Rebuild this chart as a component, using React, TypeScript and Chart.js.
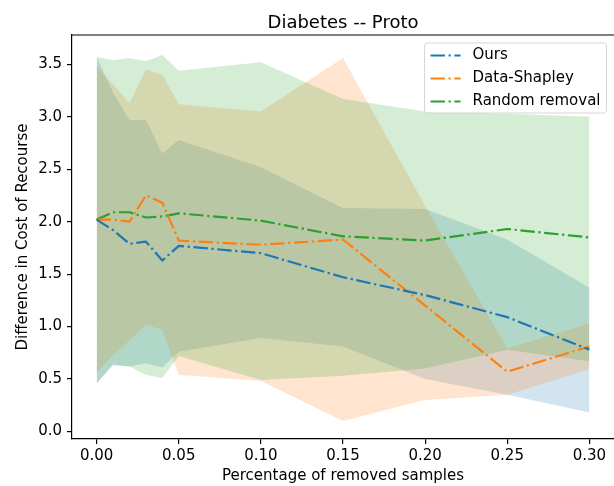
import React, { useEffect, useRef } from 'react';
import { Chart, registerables } from 'chart.js';

Chart.register(...registerables);

const xValues = [0, 0.01, 0.02, 0.03, 0.04, 0.05, 0.1, 0.15, 0.2, 0.25, 0.3];
const xTicks = [0, 0.05, 0.1, 0.15, 0.2, 0.25, 0.3];
const yTicks = [0, 0.5, 1, 1.5, 2, 2.5, 3, 3.5];
const chartTitle = 'Diabetes -- Proto';
const seriesLabels = ['Ours', 'Data-Shapley', 'Random removal'];
const seriesColors = ['#1f77b4', '#ff7f0e', '#2ca02c'];
const bandColors = ['rgba(31,119,180,0.2)', 'rgba(255,127,14,0.2)', 'rgba(44,160,44,0.2)'];

const oursMean = [2.02, 1.92, 1.79, 1.81, 1.63, 1.77, 1.70, 1.47, 1.30, 1.09, 0.78];
const oursUpper = [3.57, 3.23, 2.97, 2.97, 2.65, 2.78, 2.52, 2.13, 2.12, 1.83, 1.37];
const oursLower = [0.46, 0.63, 0.62, 0.65, 0.61, 0.76, 0.89, 0.81, 0.50, 0.35, 0.18];

const shapleyMean = [2.02, 2.02, 2.00, 2.25, 2.18, 1.82, 1.78, 1.83, 1.20, 0.57, 0.81];
const shapleyUpper = [3.48, 3.31, 3.13, 3.45, 3.40, 3.12, 3.05, 3.56, 2.15, 0.79, 1.03];
const shapleyLower = [0.56, 0.73, 0.87, 1.02, 0.97, 0.54, 0.48, 0.10, 0.30, 0.35, 0.59];

const randomMean = [2.02, 2.09, 2.09, 2.04, 2.05, 2.08, 2.01, 1.86, 1.82, 1.93, 1.85];
const randomUpper = [3.57, 3.54, 3.56, 3.53, 3.59, 3.44, 3.52, 3.17, 3.05, 3.03, 3.00];
const randomLower = [0.46, 0.64, 0.62, 0.54, 0.51, 0.72, 0.49, 0.53, 0.60, 0.78, 0.67];

const FONT = 'DejaVu Sans';
const DASH = [14.4, 3.6, 2.25, 3.6];

const pts = (ys: number[]) => xValues.map((x, i) => ({ x, y: ys[i] }));

const lineDs = (i: number, ys: number[]) => ({
  label: seriesLabels[i],
  data: pts(ys),
  borderColor: seriesColors[i],
  backgroundColor: seriesColors[i],
  borderWidth: 2.2,
  borderDash: DASH,
  borderCapStyle: 'butt',
  borderJoinStyle: 'round',
  pointRadius: 0,
  pointHoverRadius: 0,
  fill: false,
  tension: 0,
});

const bandDs = (i: number, ys: number[], upper: boolean) => ({
  label: '',
  data: pts(ys),
  borderWidth: 0,
  borderColor: 'rgba(0,0,0,0)',
  backgroundColor: bandColors[i],
  pointRadius: 0,
  pointHoverRadius: 0,
  fill: upper ? '+1' : false,
  tension: 0,
});

const framePlugin = {
  id: 'frameAndLegend',
  afterDraw(chart: any) {
    const { ctx, chartArea } = chart;
    ctx.save();
    // top spine
    ctx.strokeStyle = '#000';
    ctx.lineWidth = 1.2;
    ctx.beginPath();
    ctx.moveTo(chartArea.left - 0.6, chartArea.top);
    ctx.lineTo(chartArea.right + 1, chartArea.top);
    ctx.stroke();

    // title centred over the axes
    ctx.font = `18px "${FONT}"`;
    ctx.fillStyle = '#000';
    ctx.textAlign = 'center';
    ctx.textBaseline = 'alphabetic';
    ctx.fillText(chartTitle, (chartArea.left + chartArea.right) / 2, chartArea.top - 7.5);

    // legend
    const fs = 15;
    ctx.font = `${fs}px "${FONT}"`;
    const items = chart.data.datasets.slice(0, 3);
    let maxW = 0;
    items.forEach((d: any) => { maxW = Math.max(maxW, ctx.measureText(d.label).width); });
    const pad = 0.4 * fs;
    const handle = 2 * fs;
    const textPad = 0.8 * fs;
    const w = pad + handle + textPad + maxW + pad;
    const rowGap = 23;
    const h = 70;
    const right = chartArea.right - 0.5 * fs;
    const top = chartArea.top + 0.5 * fs + 0.5;
    const left = right - w;
    const r = 3;
    ctx.beginPath();
    ctx.moveTo(left + r, top);
    ctx.lineTo(left + w - r, top);
    ctx.arcTo(left + w, top, left + w, top + r, r);
    ctx.lineTo(left + w, top + h - r);
    ctx.arcTo(left + w, top + h, left + w - r, top + h, r);
    ctx.lineTo(left + r, top + h);
    ctx.arcTo(left, top + h, left, top + h - r, r);
    ctx.lineTo(left, top + r);
    ctx.arcTo(left, top, left + r, top, r);
    ctx.closePath();
    ctx.fillStyle = 'rgba(255,255,255,0.8)';
    ctx.fill();
    ctx.strokeStyle = 'rgba(204,204,204,0.8)';
    ctx.lineWidth = 1;
    ctx.stroke();

    items.forEach((d: any, i: number) => {
      const cy = top + 12.5 + rowGap * i;
      const hx = left + pad;
      ctx.save();
      ctx.strokeStyle = d.borderColor;
      ctx.lineWidth = d.borderWidth;
      ctx.setLineDash(d.borderDash);
      ctx.lineCap = 'butt';
      ctx.beginPath();
      ctx.moveTo(hx, cy);
      ctx.lineTo(hx + handle, cy);
      ctx.stroke();
      ctx.restore();
      ctx.fillStyle = '#000';
      ctx.textBaseline = 'middle';
      ctx.textAlign = 'left';
      ctx.fillText(d.label, hx + handle + textPad, cy);
    });
    ctx.restore();
  },
};

export default function App() {
  const ref = useRef<HTMLCanvasElement>(null);
  useEffect(() => {
    if (!ref.current) return;
    const chart = new Chart(ref.current, {
      type: 'line',
      data: {
        datasets: [
          lineDs(0, oursMean),
          lineDs(1, shapleyMean),
          lineDs(2, randomMean),
          bandDs(2, randomUpper, true),
          bandDs(2, randomLower, false),
          bandDs(1, shapleyUpper, true),
          bandDs(1, shapleyLower, false),
          bandDs(0, oursUpper, true),
          bandDs(0, oursLower, false),
        ] as any,
      },
      options: {
        animation: false,
        responsive: false,
        devicePixelRatio: 1,
        events: [],
        layout: { padding: { top: 35, left: 0, right: 0, bottom: 0 } },
        plugins: {
          legend: { display: false },
          tooltip: { enabled: false },
          title: { display: false },
        },
        scales: {
          x: {
            type: 'linear',
            min: -0.015,
            max: 0.315,
            afterBuildTicks: (s: any) => { s.ticks = xTicks.map((v) => ({ value: v })); },
            afterFit: (s: any) => { s.height = 47; },
            ticks: {
              color: '#000',
              font: { family: FONT, size: 15 },
              padding: 3,
              maxRotation: 0,
              autoSkip: false,
              callback: (v: any) => Number(v).toFixed(2),
            },
            grid: { drawOnChartArea: false, drawTicks: true, tickLength: 5, color: '#000', lineWidth: 1.2 },
            border: { display: true, color: '#000', width: 1.2 },
            title: {
              display: true,
              text: 'Percentage of removed samples',
              color: '#000',
              font: { family: FONT, size: 15, lineHeight: 1.2 },
              padding: { top: 0, bottom: 1 },
            },
          },
          y: {
            type: 'linear',
            min: -0.072,
            max: 3.78,
            afterBuildTicks: (s: any) => { s.ticks = yTicks.map((v) => ({ value: v })); },
            afterFit: (s: any) => { s.width = 72; },
            ticks: {
              color: '#000',
              font: { family: FONT, size: 15 },
              padding: 5,
              autoSkip: false,
              callback: (v: any) => Number(v).toFixed(1),
            },
            grid: { drawOnChartArea: false, drawTicks: true, tickLength: 5, color: '#000', lineWidth: 1.2 },
            border: { display: true, color: '#000', width: 1.2 },
            title: {
              display: true,
              text: 'Difference in Cost of Recourse',
              color: '#000',
              font: { family: FONT, size: 15, lineHeight: 1.2 },
              padding: { top: 13.7, bottom: 0 },
            },
          },
        },
      } as any,
      plugins: [framePlugin],
    });
    return () => chart.destroy();
  }, []);
  return (
    <div style={{ position: 'absolute', left: 0, top: 0, width: 614, height: 486, background: '#fff' }}>
      <canvas ref={ref} width={614} height={486} style={{ display: 'block' }} />
    </div>
  );
}
